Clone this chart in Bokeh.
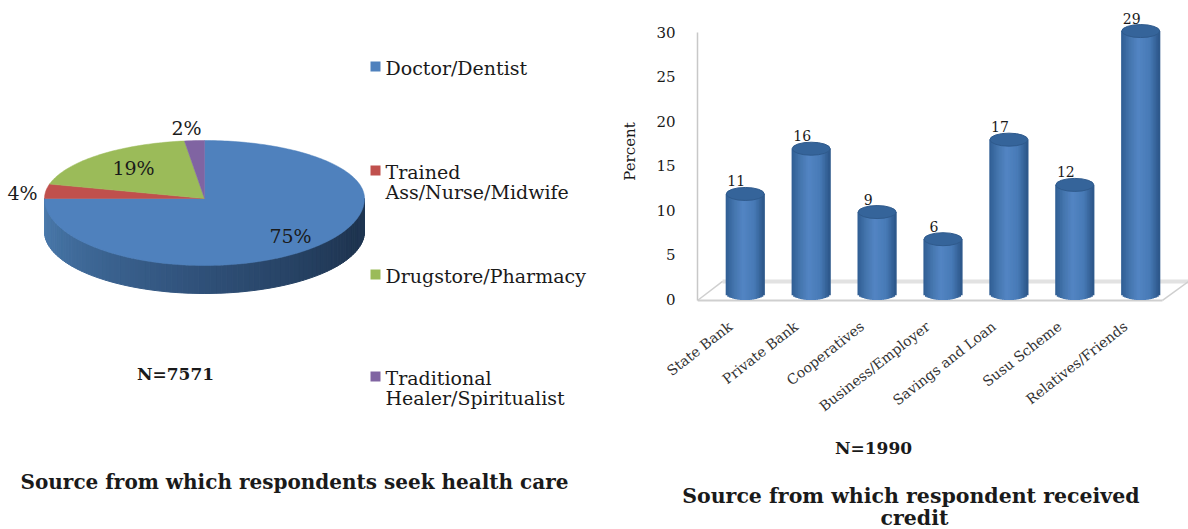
import math
from bokeh.core.properties import value
from bokeh.embed import file_html
from bokeh.layouts import column, row
from bokeh.models import FixedTicker, LinearAxis, Range1d
from bokeh.plotting import figure
from bokeh.resources import INLINE

# Health-care sources (pie)
pie_labels = ["Doctor/Dentist", "Trained\nAss/Nurse/Midwife", "Drugstore/Pharmacy", "Traditional\nHealer/Spiritualist"]
pie_values = [75, 4, 19, 2]
pie_colors = ["#4f81bd", "#c0504d", "#9bbb59", "#8064a2"]
pie_total = "N=7571"
pie_title = "Source from which respondents seek health care"

# Credit sources (cylinder bars)
bar_categories = ["State Bank", "Private Bank", "Cooperatives", "Business/Employer",
                  "Savings and Loan", "Susu Scheme", "Relatives/Friends"]
bar_values = [11, 16, 9, 6, 17, 12, 29]
bar_ticks = [0, 5, 10, 15, 20, 25, 30]
bar_total = "N=1990"
bar_title = ["Source  from which respondent received", "credit"]

SERIF = "DejaVu Serif"
TEXT = "#1a1a1a"


def lerp_hex(a, b, t):
    ca = [int(a[i:i + 2], 16) for i in (1, 3, 5)]
    cb = [int(b[i:i + 2], 16) for i in (1, 3, 5)]
    return "#" + "".join(f"{round(x + (y - x) * t):02x}" for x, y in zip(ca, cb))


def ramp(stops, t):
    for (t0, c0), (t1, c1) in zip(stops, stops[1:]):
        if t <= t1:
            return lerp_hex(c0, c1, (t - t0) / (t1 - t0))
    return stops[-1][1]


# ---------- left panel: tilted pie on a page-sized pixel scale ----------
left = figure(width=600, height=529, x_range=(0, 600), y_range=(529, 0),
              output_backend="svg", toolbar_location=None,
              x_axis_type=None, y_axis_type=None, min_border=0, outline_line_color=None)
left.grid.visible = False

cx, cy, rx = 204, 198, 160
ry_back, ry_front = 58, 67
rim_cy, rim_ry = 231, 62


def rim(theta):
    c = math.cos(theta)
    return cx + rx * math.sin(theta), cy - (ry_back if c > 0 else ry_front) * c


# outer wall of the lower half, shaded in narrow facets
side_stops = [(0, "#1f3552"), (0.12, "#1e3450"), (0.5, "#2f5078"), (0.85, "#426f9f"), (1, "#4d7bad")]
xs, ys, cs = [], [], []
facets = 90
for i in range(facets):
    a0 = math.pi / 2 + math.pi * i / facets
    a1 = math.pi / 2 + math.pi * (i + 1) / facets
    x0, y0 = rim(a0)
    x1, y1 = rim(a1)
    b0 = rim_cy - rim_ry * math.cos(a0)
    b1 = rim_cy - rim_ry * math.cos(a1)
    xs.append([x0, x1, x1, x0])
    ys.append([y0, y1, b1, b0])
    cs.append(ramp(side_stops, i / (facets - 1)))
left.patches(xs, ys, fill_color=cs, line_color=cs, line_width=1)

# top face: one wedge per share, clockwise from twelve o'clock
total = sum(pie_values)
start = 0.0
for share, color in zip(pie_values, pie_colors):
    sweep = 2 * math.pi * share / total
    steps = max(4, int(share * 3))
    outline = [rim(start + sweep * k / steps) for k in range(steps + 1)]
    left.patch([cx] + [p[0] for p in outline], [cy] + [p[1] for p in outline],
               fill_color=color, line_color=color, line_width=0.5)
    start += sweep

pie_pct_x = [290, 22, 133, 186]
pie_pct_y = [235, 192, 167, 127]
left.text(pie_pct_x, pie_pct_y, [f"{v}%" for v in pie_values], text_font=value(SERIF),
          text_font_size="19px", text_color=TEXT, text_align="center", text_baseline="middle")

legend_y = [66, 170, 274, 376]
left.rect([375] * 4, legend_y, width=10, height=10, fill_color=pie_colors, line_color=None)
for lab, y in zip(pie_labels, legend_y):
    parts = lab.split("\n")
    left.text([385] * len(parts), [y + 1 + 20 * k for k in range(len(parts))], parts,
              text_font=value(SERIF), text_font_size="19px", text_color=TEXT,
              text_baseline="middle")

left.text([175], [373], [pie_total], text_font=value(SERIF), text_font_size="17px",
          text_font_style="bold", text_color=TEXT, text_align="center", text_baseline="middle")
left.text([294], [481], [pie_title], text_font=value(SERIF), text_font_size="20px",
          text_font_style="bold", text_color=TEXT, text_align="center", text_baseline="middle")

# ---------- right panel: cylinder bars ----------
# frame is 302 px tall with 9.05 px per percent and the bar bases 9 px above its lower edge
left_edge, right_edge = -0.225, 7.225
right = figure(width=588, height=430, x_range=Range1d(left_edge, right_edge),
               y_range=Range1d(-0.994, 32.376), output_backend="svg", toolbar_location=None,
               x_axis_type=None, y_axis_type=None, min_border_left=97, min_border_right=0,
               min_border_top=0, min_border_bottom=128, outline_line_color=None)
right.grid.visible = False
right.extra_y_ranges = {"pct": Range1d(-0.393, 33.54)}
right.extra_x_ranges = {"names": Range1d(0.003, 7.453)}

yaxis = LinearAxis(y_range_name="pct", ticker=FixedTicker(ticks=bar_ticks), bounds=(-0.17, 30),
                   axis_label="Percent", axis_label_text_font=SERIF, axis_label_text_font_size="15px",
                   axis_label_text_font_style="normal", axis_label_text_color=TEXT,
                   axis_label_standoff=14, major_label_text_font=SERIF,
                   major_label_text_font_size="15px", major_label_text_color=TEXT,
                   major_label_standoff=16, axis_line_color="#c8c8c8", axis_line_width=1.5,
                   major_tick_line_color=None, minor_tick_line_color=None)
right.add_layout(yaxis, "left")

# category names sit a little left of their bars, so they get their own slightly shifted scale
bar_pos = [i + 0.5 for i in range(len(bar_categories))]
xaxis = LinearAxis(x_range_name="names", ticker=FixedTicker(ticks=bar_pos),
                   major_label_overrides=dict(zip(bar_pos, bar_categories)),
                   major_label_orientation=math.radians(38), major_label_text_font=SERIF,
                   major_label_text_font_size="14px", major_label_text_color="#333333",
                   major_label_standoff=16, axis_line_color=None, major_tick_line_color=None,
                   minor_tick_line_color=None)
right.add_layout(xaxis, "below")

# box floor
floor_front, floor_back = -0.77, 1.33
right.line([left_edge, 6.83], [floor_front, floor_front], line_color="#cfcfcf", line_width=2)
right.line([0.155, right_edge], [floor_back, floor_back], line_color="#e2e2e2", line_width=4)
right.line([left_edge, 0.155], [floor_front, floor_back], line_color="#cfcfcf", line_width=1.5)
right.line([6.83, right_edge], [floor_front, floor_back], line_color="#cfcfcf", line_width=1.5)

# each cylinder is a run of narrow strips whose lower ends follow the base curve
bar_half = 0.29
cap_rise = 0.72
bar_stops = [(0, "#2f5d92"), (0.22, "#4475ad"), (0.45, "#5385c3"), (0.75, "#477ab6"), (1, "#2c5688")]
n_strips = 24
sx, sb, st, sc = [], [], [], []
for pos, v in zip(bar_pos, bar_values):
    for k in range(n_strips):
        t = (k + 0.5) / n_strips
        u = 2 * t - 1
        bulge = cap_rise * math.sqrt(1 - u * u)
        sx.append(pos + u * bar_half)
        sb.append(-bulge)
        st.append(v)
        sc.append(ramp(bar_stops, t))
right.vbar(x=sx, bottom=sb, top=st, width=2 * bar_half / n_strips * 1.6, fill_color=sc, line_color=None)
right.ellipse(x=bar_pos, y=bar_values, width=38, height=13, width_units="screen",
              height_units="screen", fill_color="#35649a", line_color="#2f5a8c")

right.text(x=bar_pos, y=bar_values, text=[str(v) for v in bar_values], x_offset=-9, y_offset=-13,
           text_font=value(SERIF), text_font_size="14px", text_color=TEXT,
           text_align="center", text_baseline="middle")

# captions live in a strip of their own under the bars, on a page-pixel scale
captions = figure(width=588, height=99, x_range=Range1d(600, 1188), y_range=Range1d(529, 430),
                  output_backend="svg", toolbar_location=None, x_axis_type=None, y_axis_type=None,
                  min_border=0, outline_line_color=None)
captions.grid.visible = False
captions.text(x=[873], y=[447], text=[bar_total], text_font=value(SERIF), text_font_size="17px",
              text_font_style="bold", text_color=TEXT, text_align="center", text_baseline="middle")
captions.text(x=[914, 914], y=[495, 517], text=bar_title, text_font=value(SERIF),
              text_font_size="20.5px", text_font_style="bold", text_color=TEXT,
              text_align="center", text_baseline="middle")

page = row(column(left), column(column(right), column(captions), spacing=0), spacing=0)
open("out.html", "w").write(file_html(page, INLINE))
